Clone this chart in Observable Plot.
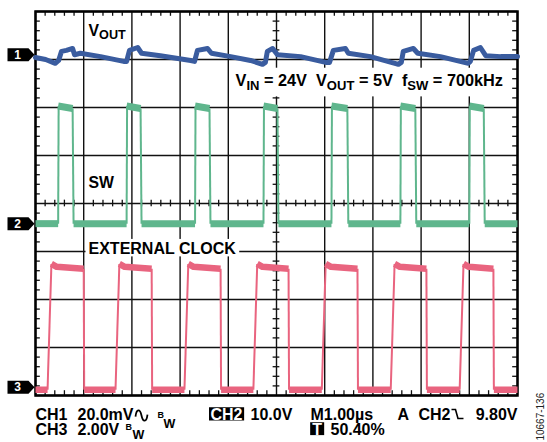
<!DOCTYPE html>
<html><head><meta charset="utf-8">
<script src="https://cdn.jsdelivr.net/npm/d3@7"></script>
<script src="https://cdn.jsdelivr.net/npm/@observablehq/plot@0.6"></script>
<style>
html,body{margin:0;padding:0;background:#fff;}
#chart svg{display:block;}
</style></head><body><div id="chart"></div>
<script>
// Time in µs (1 µs/div, 10 div); vertical in screen divisions (0 = bottom, 8 = top)
// CH1 VOUT (blue)
const blueT = [0,0.21,0.41,0.48,0.54,0.64,0.77,0.81,0.93,1.35,1.83,1.89,1.95,2.12,2.20,2.59,3.22,3.30,3.36,3.57,3.65,4.05,4.46,4.71,4.77,4.81,4.92,5.02,5.50,6.02,6.10,6.18,6.43,6.49,6.95,7.53,7.59,7.63,7.84,7.93,8.40,8.98,9.02,9.09,9.23,9.34,9.65,10];
const blueV = [7.04,7.00,6.92,6.98,7.17,7.19,7.23,7.10,7.13,7.06,6.96,6.96,7.19,7.25,7.13,7.08,6.98,6.96,7.19,7.23,7.13,7.06,6.98,6.90,6.94,7.17,7.23,7.10,7.06,6.94,6.94,7.19,7.23,7.13,7.06,6.90,6.94,7.17,7.23,7.13,7.06,6.92,6.96,7.19,7.25,7.08,7.06,7.06];
// CH2 SW (green)
const swRise = [0.47, 1.89, 3.31, 4.73, 6.14, 7.57, 9.00];
const swFall = [0.77, 2.18, 3.61, 5.02, 6.47, 7.88, 9.30];
const swLow = 3.58, swHigh = 5.98, swPeak = 6.03;
// CH3 EXTERNAL CLOCK (pink)
const clkRise = [0.29, 1.70, 3.13, 4.56, 5.98, 7.41, 8.84];
const clkFall = [1.00, 2.41, 3.84, 5.25, 6.68, 8.11, 9.50];
const clkLow = 0.12, clkHigh = 2.64, clkPeak = 2.74;
// channel markers
const markers = [{id: "1", v: 7.10}, {id: "2", v: 3.58}, {id: "3", v: 0.17}];
// in-graticule labels
const plotLabels = [
  {text: "V_{OUT}", t: 1.10, v: 7.50},
  {text: "SW", t: 1.10, v: 4.33}
];
const whiteBgLabels = [
  {text: "V_{IN} = 24V  V_{OUT} = 5V  f_{SW} = 700kHz", t: 4.15, v: 6.44, size: 16.3, padX: 4, padT: 7, padB: 10},
  {text: "EXTERNAL CLOCK", t: 1.10, v: 2.94, size: 16, padX: 3, padT: 4, padB: 2}
];
// readout text below the graticule
const readout = [
  {text: "CH1", t: 0, v: -0.5, size: 16},
  {text: "20.0mV", t: 0.871, v: -0.5, size: 16},
  {text: "B", t: 2.531, v: -0.479, size: 9},
  {text: "W", t: 2.656, v: -0.667, size: 12.5},
  {text: "10.0V", t: 4.461, v: -0.5, size: 16},
  {text: "M1.00µs", t: 5.705, v: -0.5, size: 16},
  {text: "A", t: 7.510, v: -0.5, size: 16},
  {text: "CH2", t: 7.946, v: -0.5, size: 16},
  {text: "CH3", t: 0, v: -0.8125, size: 16},
  {text: "2.00V", t: 0.871, v: -0.8125, size: 16},
  {text: "B", t: 1.867, v: -0.729, size: 9},
  {text: "W", t: 2.012, v: -0.896, size: 12.5},
  {text: "50.40%", t: 6.120, v: -0.8125, size: 16}
];
const readoutRight = [{text: "9.80V", t: 10, v: -0.5}];
const inverted = [
  {text: "CH2", t: 3.631, v: -0.5, padX: 1.5, padT: 0.8, padB: 1},
  {text: "T", t: 5.74, v: -0.8125, padX: 2, padT: 0.8, padB: 0.6}
];
const symbols = [
  {kind: "ac", t: 2.199, v: -0.417},
  {kind: "fall", t: 8.755, v: -0.385}
];
const figId = [{text: "10667-136", t: 10.477, v: -0.94}];

// ---- build tables ----
const blue = blueT.map((t, i) => ({t, v: blueV[i]}));
const swFlats = [], swEdges = [];
{
  let prev = 0, g = 0;
  swRise.forEach((r, i) => {
    const f = swFall[i];
    swFlats.push({g, t: prev, v: swLow}, {g, t: r, v: swLow}); g++;
    swFlats.push({g, t: r, v: swPeak}, {g, t: f, v: swHigh}); g++;
    swEdges.push({t1: r, v1: swLow, t2: r + 0.01, v2: swPeak});
    swEdges.push({t1: f, v1: swHigh, t2: f + 0.02, v2: swLow});
    prev = f + 0.02;
  });
  swFlats.push({g, t: prev, v: swLow}, {g, t: 10, v: swLow});
}
const clkFlats = [], clkEdges = [];
{
  let prev = 0, g = 0;
  clkRise.forEach((r, i) => {
    const f = clkFall[i];
    clkFlats.push({g, t: prev, v: clkLow}, {g, t: r - 0.04, v: clkLow}); g++;
    clkFlats.push({g, t: r + 0.04, v: clkPeak}, {g, t: r + 0.15, v: clkHigh + 0.04}, {g, t: f, v: clkHigh}); g++;
    clkEdges.push({t1: r - 0.04, v1: clkLow, t2: r + 0.04, v2: clkPeak});
    clkEdges.push({t1: f, v1: clkHigh, t2: f + 0.01, v2: clkLow});
    prev = f + 0.01;
  });
  clkFlats.push({g, t: prev, v: clkLow}, {g, t: 10, v: clkLow});
}

const majorX = d3.range(0, 11), majorY = d3.range(0, 9);
const minorX = d3.range(0, 10.001, 0.2).filter(d => Math.abs(d - Math.round(d)) > 1e-6);
const minorY = d3.range(0, 8.001, 0.2).filter(d => Math.abs(d - Math.round(d)) > 1e-6);

const markerSymbol = {draw(ctx) {
  ctx.moveTo(-28, -6.5); ctx.lineTo(-7, -6.5); ctx.lineTo(-1, 0);
  ctx.lineTo(-7, 6.5); ctx.lineTo(-28, 6.5); ctx.closePath();
}};
const acSymbol = {draw(ctx) {
  ctx.moveTo(-6, 1); ctx.bezierCurveTo(-5, -7, -1.5, -7, 0, 0);
  ctx.bezierCurveTo(1.5, 7, 5, 7, 6, -1);
}};
const fallSymbol = {draw(ctx) {
  ctx.moveTo(-6, -4.5); ctx.lineTo(-2, -4.5); ctx.lineTo(0.5, 4.5); ctx.lineTo(6, 4.5);
}};

const BLUE = "#3a5c9f", GREEN = "#5fb68d", PINK = "#e9647f";
const font = "'Liberation Sans', Arial, Helvetica, sans-serif";
const bold = {fontFamily: font, fontWeight: "bold", textAnchor: "start", lineAnchor: "bottom"};

const svg = Plot.plot({
  width: 547, height: 442,
  marginLeft: 35, marginRight: 30, marginTop: 11, marginBottom: 47,
  x: {domain: [0, 10], axis: null},
  y: {domain: [0, 8], axis: null},
  marks: [
    Plot.ruleX(majorX, {stroke: "#111", strokeWidth: 1.4}),
    Plot.ruleY(majorY, {stroke: "#111", strokeWidth: 1.4}),
    Plot.ruleX(minorX, {y1: 7.9, y2: 8, stroke: "#111", strokeWidth: 1.3}),
    Plot.ruleX(minorX, {y1: 0, y2: 0.1, stroke: "#111", strokeWidth: 1.3}),
    Plot.ruleX(minorX, {y1: 3.93, y2: 4.07, stroke: "#111", strokeWidth: 1.3}),
    Plot.ruleY(minorY, {x1: 0, x2: 0.1, stroke: "#111", strokeWidth: 1.3}),
    Plot.ruleY(minorY, {x1: 9.9, x2: 10, stroke: "#111", strokeWidth: 1.3}),
    Plot.ruleY(minorY, {x1: 4.93, x2: 5.07, stroke: "#111", strokeWidth: 1.3}),
    Plot.frame({stroke: "#000", strokeWidth: 2.5}),
    // labels
    Plot.text(plotLabels, {x: "t", y: "v", text: "text", fontSize: 15.8, fill: "#000", ...bold}),
    Plot.text(whiteBgLabels, {x: "t", y: "v", text: "text", fontSize: d => d.size, fill: "#000", ...bold, ariaLabel: (d, i) => `bgw-${i}`}),
    Plot.text(readout, {x: "t", y: "v", text: "text", fontSize: d => d.size, fill: "#000", ...bold}),
    Plot.text(readoutRight, {x: "t", y: "v", text: "text", fontSize: 16, fill: "#000", ...bold, textAnchor: "end"}),
    Plot.text(inverted, {x: "t", y: "v", text: "text", fontSize: 16, fill: "#fff", ...bold, ariaLabel: (d, i) => `bgb-${i}`}),
    Plot.dot(symbols.filter(d => d.kind === "ac"), {x: "t", y: "v", symbol: acSymbol, r: 5, fill: "none", stroke: "#000", strokeWidth: 1.8}),
    Plot.dot(symbols.filter(d => d.kind === "fall"), {x: "t", y: "v", symbol: fallSymbol, r: 5, fill: "none", stroke: "#000", strokeWidth: 1.6}),
    Plot.text(figId, {x: "t", y: "v", text: "text", rotate: -90, textAnchor: "start", lineAnchor: "middle", fontSize: 10, fontFamily: font, fill: "#222"}),
    // traces
    Plot.line(blue, {x: "t", y: "v", stroke: BLUE, strokeWidth: 5, strokeLinejoin: "round", curve: "linear"}),
    Plot.link(swEdges, {x1: "t1", y1: "v1", x2: "t2", y2: "v2", stroke: GREEN, strokeWidth: 2}),
    Plot.line(swFlats, {x: "t", y: "v", z: "g", stroke: GREEN, strokeWidth: 7, strokeLinecap: "butt"}),
    Plot.link(clkEdges, {x1: "t1", y1: "v1", x2: "t2", y2: "v2", stroke: PINK, strokeWidth: 2}),
    Plot.line(clkFlats, {x: "t", y: "v", z: "g", stroke: PINK, strokeWidth: 6.5, strokeLinecap: "butt"}),
    // channel markers
    Plot.dot(markers, {x: 0, y: "v", symbol: markerSymbol, r: 5, fill: "#000", stroke: "none"}),
    Plot.text(markers, {x: 0, y: "v", text: "id", dx: -18, fill: "#fff", fontSize: 12, fontWeight: "bold", fontFamily: font, textAnchor: "middle", lineAnchor: "middle"})
  ]
});
document.getElementById("chart").append(svg);

// subscripts: "_{...}"
d3.select(svg).selectAll("text").each(function () {
  const raw = this.textContent;
  if (!raw.includes("_{")) return;
  const fs = parseFloat(getComputedStyle(this).fontSize) || 16;
  const shift = fs * 0.24;
  this.textContent = "";
  const re = /_\{([^}]*)\}/g;
  let last = 0, m, down = false;
  const add = (s, sub) => {
    const ts = document.createElementNS("http://www.w3.org/2000/svg", "tspan");
    ts.textContent = s;
    if (sub) { ts.setAttribute("font-size", fs * 0.8); ts.setAttribute("dy", shift); down = true; }
    else if (down) { ts.setAttribute("dy", -shift); down = false; }
    this.appendChild(ts);
  };
  while ((m = re.exec(raw))) {
    if (m.index > last) add(raw.slice(last, m.index), false);
    add(m[1], true);
    last = m.index + m[0].length;
  }
  if (last < raw.length) add(raw.slice(last), false);
});

// background boxes behind labels (sized from the rendered text)
function boxes(prefix, data, color) {
  svg.querySelectorAll(`text[aria-label^="${prefix}"]`).forEach(el => {
    const i = +el.getAttribute("aria-label").slice(prefix.length);
    const d = data[i];
    const fs = parseFloat(getComputedStyle(el).fontSize) || 16;
    const bb = el.getBBox();
    const cap = fs * 0.716;
    const r = document.createElementNS("http://www.w3.org/2000/svg", "rect");
    r.setAttribute("x", bb.x - d.padX);
    r.setAttribute("width", bb.width + 2 * d.padX);
    r.setAttribute("y", -cap - d.padT);
    r.setAttribute("height", cap + d.padT + d.padB);
    r.setAttribute("fill", color);
    r.setAttribute("stroke", "none");
    const tr = el.getAttribute("transform");
    if (tr) r.setAttribute("transform", tr);
    el.parentNode.insertBefore(r, el);
  });
}
boxes("bgw-", whiteBgLabels, "#fff");
boxes("bgb-", inverted, "#000");
</script></body></html>
